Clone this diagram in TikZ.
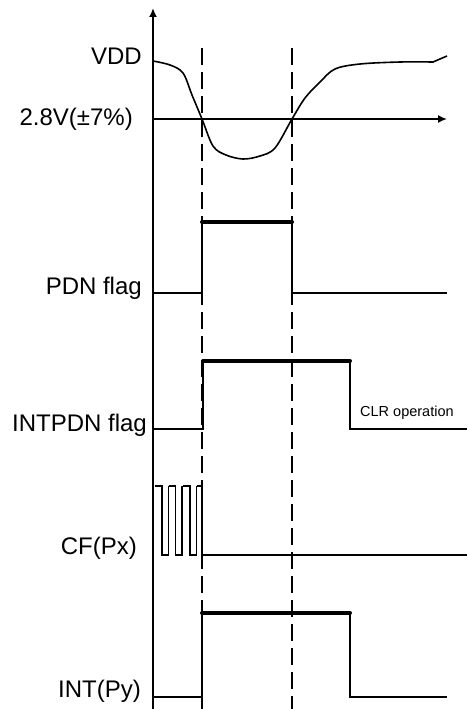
\documentclass[tikz,border=0pt]{standalone}
\usepackage{fontspec}
\setmainfont{Liberation Sans}
\usetikzlibrary{arrows.meta}

\begin{document}
\begin{tikzpicture}[
    x=1pt, y=-1pt,
    >={Latex[length=9pt,width=8pt]},
    font=\fontsize{24}{28}\selectfont,
    siglabel/.style={
        anchor=base east,
        inner sep=0pt
    },
    notelabel/.style={
        anchor=base west,
        inner sep=0pt,
        font=\fontsize{14.5}{17}\selectfont
    },
    axisline/.style={line width=1.8pt},
    sigline/.style={line width=1.6pt},
    sighigh/.style={line width=4pt, line cap=round},
    guideline/.style={line width=1.3pt, dash pattern=on 17pt off 7pt}
]
\useasboundingbox (0,0) rectangle (467,709);
% ============================================================
% AXES
% ============================================================
\coordinate (origin)  at (153,709);
\coordinate (axistop) at (153,8);
\coordinate (thleft)  at (153,119);
\coordinate (thright) at (447,119);
\draw[axisline, ->] (origin) -- (axistop);
\draw[sigline, ->]  (thleft) -- (thright);
% ============================================================
% DASHED TIME MARKERS
% ============================================================
\coordinate (tonetop) at (202,48);
\coordinate (tonebot) at (202,709);
\coordinate (ttwotop) at (292,48);
\coordinate (ttwobot) at (292,709);
\draw[guideline] (tonetop) -- (tonebot);
\draw[guideline] (ttwotop) -- (ttwobot);
% ============================================================
% SIGNAL LABELS
% ============================================================
\node[siglabel] (vdd)    at (142,65)  {VDD};
\node[siglabel] (thresh) at (133,125) {2.8V(±7\%)};
\node[siglabel] (pdn)    at (142,294) {PDN flag};
\node[siglabel] (intpdn) at (147,431) {INTPDN flag};
\node[siglabel] (cfpx)   at (137,554) {CF(Px)};
\node[siglabel] (intpy)  at (141,697) {INT(Py)};
\node[notelabel] (clr)   at (360,416) {CLR operation};
% ============================================================
% VDD CURVE
% ============================================================
\draw[sigline] plot[smooth, tension=0.55] coordinates {
    (153,61) (170,65) (183,73) (192,95) (202,119) (213,146)
    (226,155) (243,159) (260,156) (275,148) (292,119) (305,98)
    (320,82) (335,69) (360,64) (400,62) (433,62)}
    -- (447,56);
% ============================================================
% PDN FLAG
% ============================================================
\draw[sigline] (153,293) -- (202,293) -- (202,222) -- (292,222)
    -- (292,293) -- (447,293);
\draw[sighigh] (202,222) -- (292,222);
% ============================================================
% INTPDN FLAG
% ============================================================
\draw[sigline] (153,429) -- (203,429) -- (203,361) -- (350,361)
    -- (350,429) -- (467,429);
\draw[sighigh] (203,361) -- (350,361);
% ============================================================
% CF(Px) -- pulse train stops at first marker
% ============================================================
\foreach \px in {155,168.5,183} {
    \draw[sigline] (\px,486) -- ++(7,0) -- ++(0,69) -- ++(6.5,0) -- ++(0,-69);
}
\draw[sigline] (196.5,486) -- (202,486) -- (202,555) -- (467,555);
% ============================================================
% INT(Py)
% ============================================================
\draw[sigline] (153,697) -- (202,697) -- (202,613) -- (350,613)
    -- (350,697) -- (447,697);
\draw[sighigh] (202,613) -- (350,613);
\end{tikzpicture}
\end{document}
